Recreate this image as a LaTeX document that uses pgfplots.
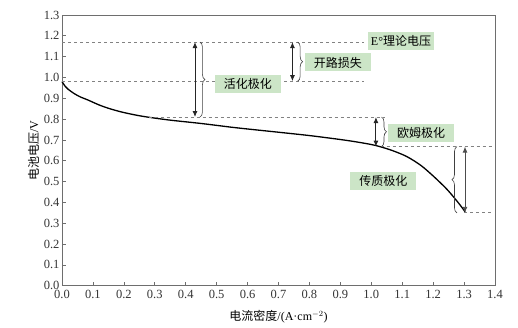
\documentclass[border=0pt]{standalone}
\usepackage{pgfplots}
\pgfplotsset{compat=1.18}
\usepackage{fontspec}
\setmainfont{Liberation Serif}
\newfontfamily\cjk{Noto Sans CJK SC}
\usetikzlibrary{arrows.meta,decorations.pathreplacing}
\definecolor{boxgreen}{RGB}{204,229,199}
\definecolor{axgray}{RGB}{110,110,110}
\definecolor{dashgray}{RGB}{130,130,130}
\begin{document}
\begin{tikzpicture}
\begin{axis}[
  scale only axis, width=433pt, height=270.7pt,
  xmin=0, xmax=1.4, ymin=0, ymax=1.3,
  xtick={0,0.1,...,1.4}, ytick={0,0.1,...,1.3},
  /pgf/number format/.cd, fixed, fixed zerofill, precision=1, assume math mode=true,
  /pgfplots/.cd,
  tick align=inside, xtick pos=bottom, ytick pos=left,
  major tick length=4pt,
  axis line style={axgray, line width=0.8pt},
  every tick/.style={axgray, line width=0.7pt},
  tick label style={font=\rmfamily\fontsize{12.5}{14}\selectfont, text=black!80},
  xticklabel style={yshift=-1pt},
  yticklabel style={xshift=1pt},
  xlabel={\cjk 电流密度\rmfamily/(A·cm$^{-2}$)},
  ylabel={\cjk 电池电压\rmfamily/V},
  label style={font=\fontsize{12}{14}\selectfont},
  xlabel style={yshift=-5pt},
  ylabel style={yshift=-2pt},
  clip=false,
]
\addplot[black, line width=1.3pt, smooth, tension=0.5] coordinates {
(0,0.980) (0.01,0.958) (0.02,0.943) (0.04,0.922) (0.06,0.906) (0.085,0.891)
(0.12,0.868) (0.15,0.852) (0.193,0.834) (0.24,0.819) (0.28,0.809) (0.35,0.795)
(0.45,0.779) (0.56,0.759) (0.70,0.737) (0.80,0.721) (0.90,0.702) (0.95,0.691)
(1.00,0.678) (1.03,0.667) (1.07,0.648) (1.115,0.620) (1.16,0.578) (1.20,0.527)
(1.24,0.470) (1.265,0.428) (1.29,0.382) (1.303,0.355)
};
% dashed reference lines
\begin{scope}[dashgray, line width=0.8pt, dash pattern=on 3pt off 3pt]
\draw (axis cs:0,1.17) -- (axis cs:0.975,1.17);
\draw (axis cs:0,0.982) -- (axis cs:0.975,0.982);
\draw (axis cs:0.28,0.81) -- (axis cs:1.045,0.81);
\draw (axis cs:1.03,0.668) -- (axis cs:1.39,0.668);
\draw (axis cs:1.30,0.35) -- (axis cs:1.39,0.35);
\end{scope}
% arrows
\begin{scope}[line width=0.9pt, {Latex[length=6pt,width=5pt]}-{Latex[length=6pt,width=5pt]}]
\draw[black!85] (axis cs:0.43,1.17) -- (axis cs:0.43,0.81);
\draw[black!85] (axis cs:0.745,1.17) -- (axis cs:0.745,0.982);
\draw[black!85] (axis cs:1.015,0.81) -- (axis cs:1.015,0.668);
\draw[black!70] (axis cs:1.303,0.668) -- (axis cs:1.303,0.35);
\end{scope}
% braces
\begin{scope}[black!75, line width=0.6pt, decorate, decoration={brace, amplitude=5pt}]
\draw[decorate] (axis cs:0.446,1.17) -- (axis cs:0.446,0.81);
\draw[decorate] (axis cs:0.762,1.17) -- (axis cs:0.762,0.982);
\draw[decorate] (axis cs:1.033,0.81) -- (axis cs:1.033,0.668);
\draw[decorate] (axis cs:1.277,0.35) -- (axis cs:1.277,0.668);
\end{scope}
% labels
\begin{scope}[every node/.style={fill=boxgreen, inner xsep=3pt, inner ysep=2pt, minimum height=18pt, minimum width=66pt, font=\cjk\fontsize{12}{14}\selectfont}]
\node at (axis cs:1.096,1.175) {\rmfamily E°\cjk 理论电压};
\node at (axis cs:0.892,1.072) {开路损失};
\node at (axis cs:0.601,0.968) {活化极化};
\node at (axis cs:1.161,0.732) {欧姆极化};
\node at (axis cs:1.039,0.504) {传质极化};
\end{scope}
\end{axis}
\pgfresetboundingbox
\path[use as bounding box] (-62pt,-42.3pt) rectangle (456pt,285.7pt);
\end{tikzpicture}
\end{document}
